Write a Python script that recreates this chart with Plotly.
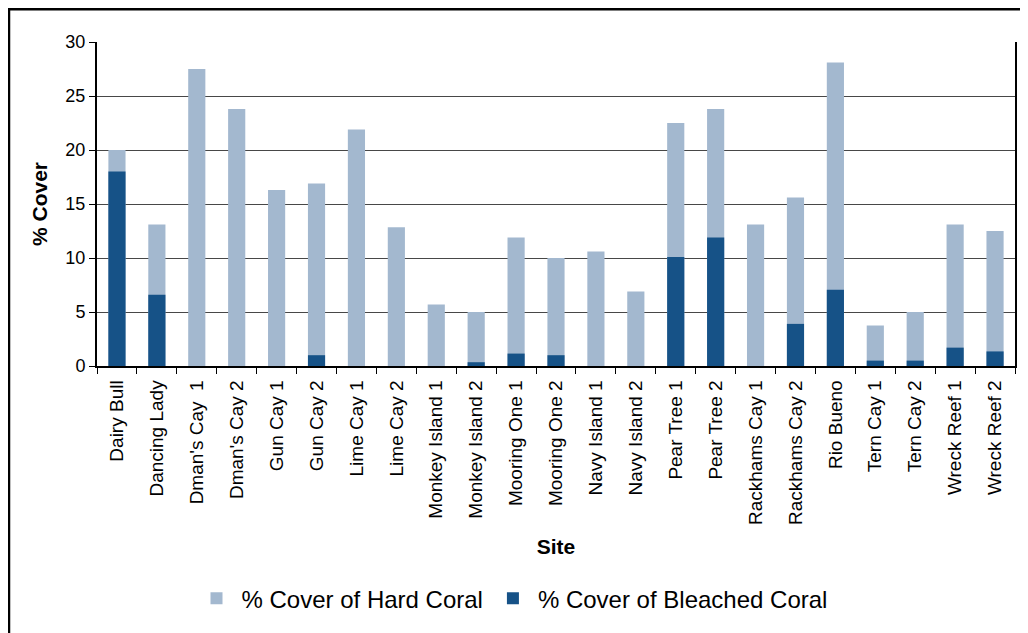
import plotly.graph_objects as go

sites = [
    "Dairy Bull", "Dancing Lady", "Dman's Cay  1", "Dman's Cay 2", "Gun Cay 1",
    "Gun Cay 2", "Lime Cay 1", "Lime Cay 2", "Monkey Island 1", "Monkey Island 2",
    "Mooring One 1", "Mooring One 2", "Navy Island 1", "Navy Island 2", "Pear Tree 1",
    "Pear Tree 2", "Rackhams Cay 1", "Rackhams Cay 2", "Rio Bueno", "Tern Cay 1",
    "Tern Cay 2", "Wreck Reef 1", "Wreck Reef 2",
]
hard_coral = [
    20.0, 13.1, 27.5, 23.8, 16.3, 16.9, 21.9, 12.85, 5.7, 5.0,
    11.9, 10.0, 10.6, 6.9, 22.5, 23.8, 13.1, 15.6, 28.1, 3.75,
    5.0, 13.1, 12.5,
]
bleached = [
    18.0, 6.6, 0, 0, 0, 1.0, 0, 0, 0, 0.35,
    1.15, 1.0, 0, 0, 10.1, 11.9, 0, 3.9, 7.05, 0.5,
    0.5, 1.7, 1.35,
]

light = "#A3B8CF"
dark = "#165287"
font = "Liberation Sans, Arial, sans-serif"

# the page body adds an 8px offset, so work in page pixels minus 8
OFF = 8
W, H = 1028 - OFF, 633 - OFF
L, R, T, B = 97 - OFF, 1015 - OFF, 42 - OFF, 368 - OFF
pw, ph = R - L, B - T

fig = go.Figure()
fig.add_trace(go.Bar(x=sites, y=hard_coral, name="% Cover of Hard Coral",
                     marker=dict(color=light, line=dict(width=0)), width=0.43))
fig.add_trace(go.Bar(x=sites, y=bleached, name="% Cover of Bleached Coral",
                     marker=dict(color=dark, line=dict(width=0)), width=0.43))

fig.update_layout(
    width=W, height=H,
    barmode="overlay",
    plot_bgcolor="white", paper_bgcolor="white",
    margin=dict(l=L, r=W - R, t=T, b=H - B, pad=0),
    font=dict(family=font, color="black", size=18),
    showlegend=True,
    legend=dict(
        orientation="h", x=(512 - OFF - L) / pw, xanchor="center",
        y=(B - (602 - OFF)) / ph, yanchor="middle",
        font=dict(size=24), itemwidth=40, traceorder="normal",
    ),
    xaxis=dict(
        type="category", tickangle=-90, showline=True, linecolor="black", linewidth=1.5,
        ticks="outside", tickson="boundaries", ticklen=6, tickcolor="black",
        tickfont=dict(size=19), ticklabelstandoff=5, showgrid=False, automargin=False,
        title=dict(text="<b>Site</b>", font=dict(size=21), standoff=15),
    ),
    yaxis=dict(
        range=[0, 30], dtick=5, showline=True, linecolor="black", linewidth=2, mirror=True,
        ticks="outside", ticklen=6, tickcolor="black", tickfont=dict(size=18),
        showgrid=True, gridcolor="#474747", gridwidth=1, zeroline=False, automargin=False,
        title=dict(text="<b>% Cover</b>", font=dict(size=21), standoff=12),
    ),
    shapes=[dict(
        type="rect", xref="paper", yref="paper",
        x0=(9 - OFF - L) / pw, x1=(1045 - L) / pw,
        y0=(B - 660) / ph, y1=(B - (9 - OFF)) / ph,
        line=dict(color="black", width=2.5), fillcolor="rgba(0,0,0,0)", layer="below",
    )],
)

fig.write_html("out.html")
